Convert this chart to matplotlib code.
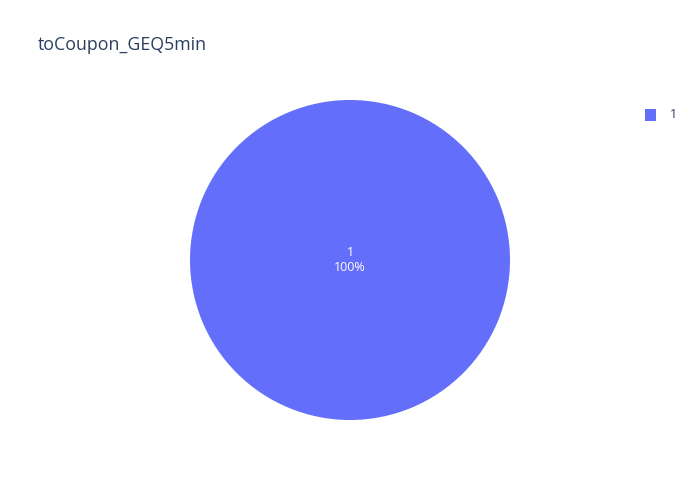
import matplotlib
matplotlib.use("Agg")
import matplotlib.pyplot as plt
from matplotlib.patches import Rectangle

plt.rcParams['font.family'] = ['Open Sans', 'DejaVu Sans']

labels = ["1"]
values = [100]
colors = ["#636efa"]
title = "toCoupon_GEQ5min"

W, H = 700, 500
fig = plt.figure(figsize=(W / 100, H / 100), dpi=100)
fig.patch.set_facecolor("white")

# pie axes: center (350,260), radius 160 px
ax = fig.add_axes([190 / W, (H - 420) / H, 320 / W, 320 / H])
total = sum(values)
wedges, _ = ax.pie(values, colors=colors, startangle=90, counterclock=False,
                   wedgeprops=dict(linewidth=0))
ax.set_aspect("equal")
ax.set_xlim(-1, 1)
ax.set_ylim(-1, 1)
ax.axis("off")
for lab, v in zip(labels, values):
    ax.text(0, 0, f"{lab}\n{v / total * 100:.0f}%", ha="center", va="center",
            color="white", fontsize=9, linespacing=1.15)

fig.text(38 / W, 1 - 45 / H, title, fontsize=12.8, color="#2a3f5f",
         ha="left", va="center")

# legend
for i, (lab, c) in enumerate(zip(labels, colors)):
    y = 115 + i * 19
    fig.patches.append(Rectangle((645 / W, 1 - (y + 5.5) / H), 11 / W, 11 / H,
                                 transform=fig.transFigure, facecolor=c,
                                 edgecolor=c, linewidth=0))
    fig.text(670 / W, 1 - y / H, lab, fontsize=9, color="#2a3f5f",
             ha="left", va="center")

fig.savefig("out.png", dpi=100)
